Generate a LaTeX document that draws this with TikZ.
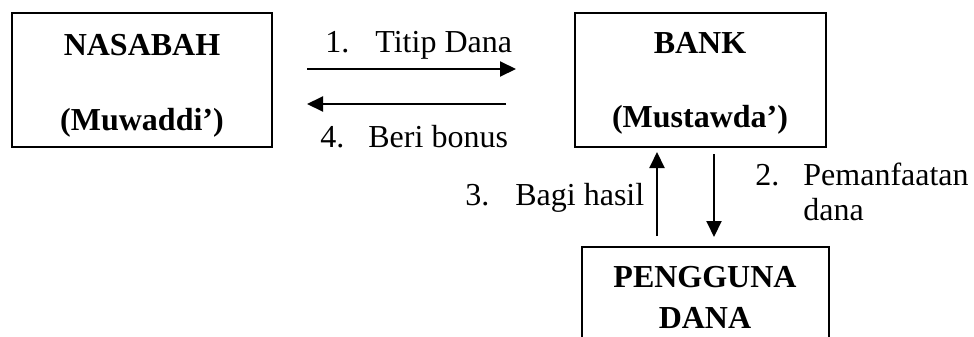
\documentclass[tikz,border=0pt]{standalone}
\usepackage{fontspec}
\setmainfont{Liberation Serif}
\usetikzlibrary{arrows.meta}
\begin{document}
\begin{tikzpicture}[x=0.5pt,y=-0.5pt,
  box/.style={draw,line width=1pt,inner sep=0pt},
  arr/.style={line width=1pt,-{Triangle[length=8pt,width=7.5pt]}},
  lbl/.style={anchor=base west,inner sep=0pt,font=\fontsize{16}{19}\selectfont},
  ttl/.style={anchor=base,inner sep=0pt,font=\fontsize{16}{19}\selectfont\bfseries}]
\clip (0,0) rectangle (974,337);
\fill[white] (0,0) rectangle (974,337);

% parties
\node[box,minimum width=130pt,minimum height=67pt] (nas) at (142,80) {};
\node[box,minimum width=125.5pt,minimum height=67pt] (bank) at (700.5,80) {};
\node[box,minimum width=123.5pt,minimum height=66.5pt] (user) at (705.5,313.5) {};

\node[ttl] (nasA) at (142,55) {NASABAH};
\node[ttl] (nasB) at (142,130) {(Muwaddi’)};
\node[ttl] (bankA) at (700,53) {BANK};
\node[ttl] (bankB) at (700,127) {(Mustawda’)};
\node[ttl] (userA) at (705,287) {PENGGUNA};
\node[ttl] (userB) at (705,328) {DANA};

% arrow end points
\coordinate (a1s) at (307,69);  \coordinate (a1e) at (516,69);
\coordinate (a4s) at (506,104); \coordinate (a4e) at (307,104);
\coordinate (a3s) at (657,236); \coordinate (a3e) at (657,152);
\coordinate (a2s) at (714,154); \coordinate (a2e) at (714,237);

\draw[arr] (a1s) -- (a1e);
\draw[arr] (a4s) -- (a4e);
\draw[arr] (a3s) -- (a3e);
\draw[arr] (a2s) -- (a2e);

% flow labels
\node[lbl] (l1) at (325,52) {1.\hspace{13pt}Titip Dana};
\node[lbl] (l4) at (320,147) {4.\hspace{12pt}Beri bonus};
\node[lbl] (l3) at (465,205) {3.\hspace{13pt}Bagi hasil};
\node[lbl] (l2) at (755,185) {2.\hspace{12pt}Pemanfaatan};
\node[lbl] (l2b) at (803,220) {dana};
\end{tikzpicture}
\end{document}
